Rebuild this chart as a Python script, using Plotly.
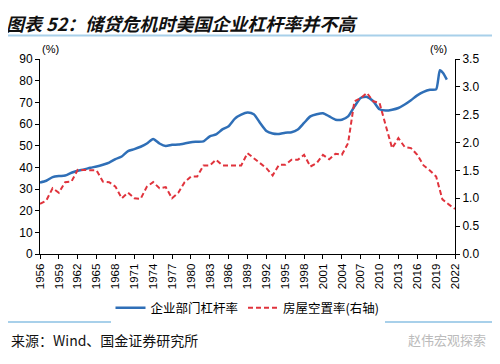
import plotly.graph_objects as go

# ---- data ----
lev_years = [1956, 1957, 1958, 1959, 1960, 1961, 1962, 1963, 1964, 1965, 1966, 1967, 1968, 1969,
             1970, 1971, 1972, 1973, 1974, 1975, 1976, 1977, 1978, 1979, 1980, 1981, 1982, 1983,
             1984, 1985, 1986, 1987, 1988, 1989, 1990, 1991, 1992, 1993, 1994, 1995, 1996, 1997,
             1998, 1999, 2000, 2001, 2002, 2003, 2004, 2005, 2006, 2007, 2008, 2009, 2010, 2011,
             2012, 2013, 2014, 2015, 2016, 2017, 2018, 2019, 2019.6, 2020.1, 2020.7]
leverage = [33, 33.8, 35.5, 36, 36.2, 37.5, 38.4, 39, 39.8, 40.4, 41.2, 42.2, 43.8, 45,
            47.5, 48.4, 49.5, 51, 53.1, 51, 49.8, 50.4, 50.5, 51, 51.6, 51.8, 52, 54.3,
            55.2, 57.5, 59, 62.5, 64.3, 65.3, 64.5, 60.5, 56.8, 55.6, 55.4, 56, 56.2, 57.5,
            60.5, 63.5, 64.5, 65, 63.5, 62, 62, 63.5, 68, 72, 72.5, 70.5, 66.8, 66.2,
            66.6, 67.4, 69, 71, 73.2, 74.8, 75.8, 76, 84.8, 83.5, 80.5]

vac_years = list(range(1956, 2023))
vacancy = [0.9, 0.96, 1.18, 1.1, 1.29, 1.3, 1.51, 1.51, 1.5, 1.5, 1.3, 1.29, 1.21, 1.0,
           1.1, 1.0, 0.99, 1.21, 1.29, 1.18, 1.2, 1.0, 1.1, 1.29, 1.39, 1.39, 1.59, 1.59,
           1.69, 1.59, 1.59, 1.59, 1.59, 1.81, 1.72, 1.63, 1.54, 1.41, 1.6, 1.6, 1.69, 1.69,
           1.78, 1.57, 1.63, 1.78, 1.7, 1.8, 1.78, 1.99, 2.74, 2.8, 2.89, 2.74, 2.71, 2.3,
           1.9, 2.08, 1.92, 1.9, 1.78, 1.59, 1.5, 1.39, 0.98, 0.89, 0.81]

x_ticks = list(range(1956, 2023, 3))
left_ticks = list(range(0, 91, 10))
right_ticks = [0.0, 0.5, 1.0, 1.5, 2.0, 2.5, 3.0, 3.5]

FONT = "Noto Sans CJK SC"
NUM = "Liberation Sans, Arial"

fig = go.Figure()
fig.add_trace(go.Scatter(x=lev_years, y=leverage, name="企业部门杠杆率", mode="lines",
                         line=dict(color="#2f6fb7", width=2.5, shape="spline", smoothing=0.6)))
fig.add_trace(go.Scatter(x=vac_years, y=vacancy, name="房屋空置率(右轴)", mode="lines", yaxis="y2",
                         line=dict(color="#e0333c", width=2, dash="5px,3px")))

# page body has an 8px default margin, so the figure is sized/offset to compensate
fig.update_layout(
    width=492, height=356,
    margin=dict(l=32, r=45, t=51, b=110, autoexpand=False),
    paper_bgcolor="white", plot_bgcolor="white",
    font=dict(family=FONT, size=11, color="#000"),
    showlegend=True,
    legend=dict(orientation="h", x=0.5, xanchor="center", y=-0.2, yanchor="top",
                font=dict(size=12.5, family=FONT), itemwidth=30, traceorder="normal"),
    xaxis=dict(range=[1956, 2022], tickvals=x_ticks, ticktext=[str(v) for v in x_ticks],
               tickangle=-90, showline=True, linecolor="#000", linewidth=1, automargin=False,
               ticks="outside", ticklen=4, tickcolor="#000", showgrid=False, zeroline=False,
               tickfont=dict(family=NUM, size=11.5)),
    yaxis=dict(range=[0, 90], tickvals=left_ticks, showline=True, linecolor="#000", linewidth=1,
               ticks="outside", ticklen=4, tickcolor="#000", showgrid=False, zeroline=False,
               automargin=False, tickfont=dict(family=NUM, size=12)),
    yaxis2=dict(range=[0, 3.5], tickvals=right_ticks, ticktext=[f"{v:.1f}" for v in right_ticks],
                overlaying="y", side="right", showline=True, linecolor="#000", linewidth=1,
                ticks="outside", ticklen=4, tickcolor="#000", showgrid=False, zeroline=False,
                automargin=False, tickfont=dict(family=NUM, size=12)),
)

# title
fig.add_annotation(text="<b><i>图表 52：储贷危机时美国企业杠杆率并不高</i></b>", xref="paper", yref="paper",
                   x=-0.085, y=1.255, xanchor="left", yanchor="top", showarrow=False, borderpad=0,
                   font=dict(family=FONT, size=18, color="#111"))
# separator lines
fig.add_shape(type="line", xref="paper", yref="paper", x0=-0.1, x1=1.12, y0=1.12, y1=1.12,
              line=dict(color="#a8d0ea", width=2))
fig.add_shape(type="line", xref="paper", yref="paper", x0=-0.1, x1=1.12, y0=-0.349, y1=-0.349,
              line=dict(color="#a8d0ea", width=2))
# units
fig.add_annotation(text="(%)", xref="paper", yref="paper", x=0.025, y=1.0, xanchor="center",
                   yanchor="bottom", yshift=2, showarrow=False, font=dict(family=NUM, size=11))
fig.add_annotation(text="(%)", xref="paper", yref="paper", x=0.96, y=1.0, xanchor="center",
                   yanchor="bottom", yshift=2, showarrow=False, font=dict(family=NUM, size=11))
# source
fig.add_annotation(text="来源：Wind、国金证券研究所", xref="paper", yref="paper", x=-0.075, y=-0.44,
                   xanchor="left", yanchor="middle", showarrow=False,
                   font=dict(family=FONT, size=14, color="#111"))
fig.add_annotation(text="赵伟宏观探索", xref="paper", yref="paper", x=1.08, y=-0.44,
                   xanchor="right", yanchor="middle", showarrow=False,
                   font=dict(family=FONT, size=13, color="#bbbbbb"))

fig.write_html("out.html")
